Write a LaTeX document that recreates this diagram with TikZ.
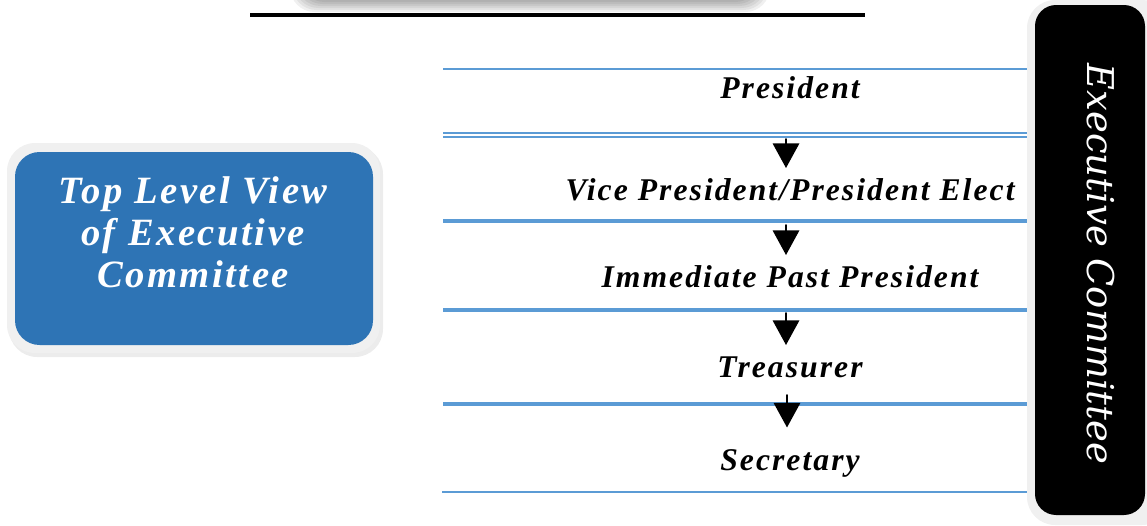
\documentclass[tikz,border=0pt]{standalone}
\usepackage{fontspec}
\setmainfont{Liberation Serif}
\newfontfamily\rolefont[LetterSpace=6.5]{Liberation Serif}
\newfontfamily\sidefont{DejaVu Serif}
\usepackage{tikz}
\usetikzlibrary{arrows.meta}
\definecolor{lineblue}{HTML}{5B9BD5}
\definecolor{boxblue}{HTML}{2E74B5}
\definecolor{framegray}{HTML}{F0F0F0}

\tikzset{
  role/.style={font=\rolefont\bfseries\itshape\fontsize{18}{20}\selectfont,
    anchor=base, inner sep=0pt, text height=18pt, text depth=4pt},
  title/.style={font=\rolefont\bfseries\itshape\fontsize{22}{24}\selectfont,
    text=white, anchor=base, inner sep=0pt},
  side/.style={font=\sidefont\itshape\fontsize{21}{24}\selectfont,
    text=white, anchor=base, rotate=-90, inner sep=0pt},
  rule/.style={draw=lineblue, line width=1.1pt, line cap=butt},
  arr/.style={->, line width=1.1pt}
}

\begin{document}
\begin{tikzpicture}[line cap=round,line join=round,>={Triangle[width=15pt,length=14pt]},x=0.02cm,y=-0.02cm]
\useasboundingbox (0,0) rectangle (1147,525);
% box above, only its shadow shows
\foreach \d in {0,2,...,14}
  \fill[black,opacity=0.06,rounded corners=14pt] (290+\d,-40) rectangle (770-\d,12-\d);
\draw[line width=2.6pt,line cap=butt] (250,15)-- (865,15);

% left box
\fill[gray!30,opacity=0.5,rounded corners=16pt] (9,146) rectangle (383,357);
\fill[framegray,rounded corners=16pt] (7,143) rectangle (380,353);
\fill[boxblue,rounded corners=14pt] (15,152) rectangle (373,345);
\node[title] (top1) at (193,203) {Top Level View};
\node[title] (top2) at (193,245) {of Executive};
\node[title] (top3) at (193,287) {Committee};

% right box
\fill[framegray,rounded corners=16pt] (1027,0) rectangle (1170,525);
\fill[black,rounded corners=12pt] (1035,5) rectangle (1145,515);
\node[side] (exec) at (1087,264) {Executive Committee};

% rules
\draw[rule] (443,69)-- (1027,69);
\draw[rule,line width=0.85pt] (443,133)-- (1027,133);
\draw[rule,line width=0.85pt] (443,137)-- (1027,137);
\draw[rule,line width=2pt] (443,221)-- (1027,221);
\draw[rule,line width=2pt] (443,310)-- (1027,310);
\draw[rule,line width=2pt] (443,404)-- (1027,404);
\draw[rule] (442,492)-- (1027,492);

% offices
\node[role] (pres) at (790,98) {President};
\node[role] (vice) at (790,200) {Vice President/President Elect};
\node[role] (past) at (790,287) {Immediate Past President};
\node[role] (treas) at (790,377) {Treasurer};
\node[role] (secr) at (790,470) {Secretary};

\coordinate (s1) at (786,139);
\coordinate (s2) at (786,225);
\coordinate (s3) at (786,313);
\coordinate (s4) at (787,395);
\draw[arr] (s1)-- (s1 |- vice.north);
\draw[arr] (s2)-- (s2 |- past.north);
\draw[arr] (s3)-- (s3 |- treas.north);
\draw[arr,shorten >=6pt] (s4)-- (s4 |- secr.north);

\end{tikzpicture}
\end{document}
